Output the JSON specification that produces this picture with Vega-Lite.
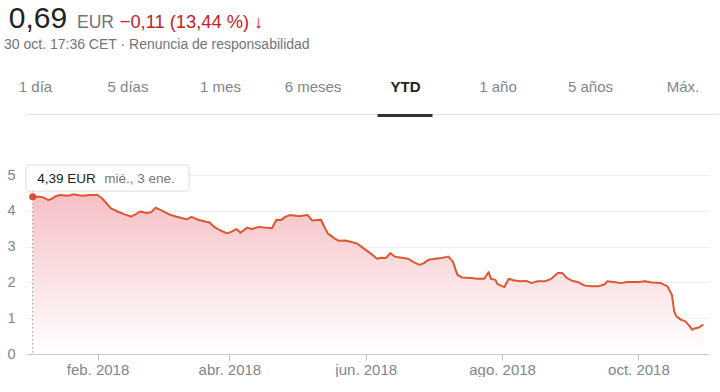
{
  "$schema": "https://vega.github.io/schema/vega-lite/v6.json",
  "background": "white",
  "padding": {"left": 4, "top": 0, "right": 0, "bottom": 0},
  "config": {"font": "Liberation Sans", "view": {"stroke": null}},
  "datasets": {
    "tabs": [{"tab": "1 día"}, {"tab": "5 días"}, {"tab": "1 mes"}, {"tab": "6 meses"}, {"tab": "YTD"}, {"tab": "1 año"}, {"tab": "5 años"}, {"tab": "Máx."}],
    "hover": [{"date": "2018-01-03", "value": 4.39, "price": "4,39 EUR", "day": "mié., 3 ene."}],
    "prices": [
      {"date": "2018-01-03", "value": 4.39}, {"date": "2018-01-05", "value": 4.40}, {"date": "2018-01-08", "value": 4.37},
      {"date": "2018-01-10", "value": 4.30}, {"date": "2018-01-12", "value": 4.35}, {"date": "2018-01-13", "value": 4.40},
      {"date": "2018-01-15", "value": 4.44}, {"date": "2018-01-19", "value": 4.42}, {"date": "2018-01-21", "value": 4.46},
      {"date": "2018-01-25", "value": 4.42}, {"date": "2018-01-29", "value": 4.44}, {"date": "2018-02-01", "value": 4.44},
      {"date": "2018-02-03", "value": 4.35}, {"date": "2018-02-05", "value": 4.21}, {"date": "2018-02-07", "value": 4.07},
      {"date": "2018-02-10", "value": 3.98}, {"date": "2018-02-13", "value": 3.90}, {"date": "2018-02-16", "value": 3.84},
      {"date": "2018-02-18", "value": 3.90}, {"date": "2018-02-20", "value": 3.98}, {"date": "2018-02-23", "value": 3.94},
      {"date": "2018-02-25", "value": 3.96}, {"date": "2018-02-27", "value": 4.09}, {"date": "2018-03-02", "value": 4.00},
      {"date": "2018-03-05", "value": 3.90}, {"date": "2018-03-08", "value": 3.84}, {"date": "2018-03-11", "value": 3.79},
      {"date": "2018-03-13", "value": 3.76}, {"date": "2018-03-15", "value": 3.83}, {"date": "2018-03-18", "value": 3.75},
      {"date": "2018-03-21", "value": 3.70}, {"date": "2018-03-23", "value": 3.68}, {"date": "2018-03-25", "value": 3.56},
      {"date": "2018-03-28", "value": 3.45}, {"date": "2018-03-31", "value": 3.37}, {"date": "2018-04-02", "value": 3.42},
      {"date": "2018-04-04", "value": 3.49}, {"date": "2018-04-06", "value": 3.39}, {"date": "2018-04-09", "value": 3.53},
      {"date": "2018-04-11", "value": 3.49}, {"date": "2018-04-14", "value": 3.55}, {"date": "2018-04-17", "value": 3.53},
      {"date": "2018-04-20", "value": 3.51}, {"date": "2018-04-22", "value": 3.75}, {"date": "2018-04-24", "value": 3.74},
      {"date": "2018-04-26", "value": 3.83}, {"date": "2018-04-28", "value": 3.88}, {"date": "2018-04-30", "value": 3.87},
      {"date": "2018-05-02", "value": 3.85}, {"date": "2018-05-06", "value": 3.88}, {"date": "2018-05-08", "value": 3.73},
      {"date": "2018-05-12", "value": 3.75}, {"date": "2018-05-13", "value": 3.61}, {"date": "2018-05-15", "value": 3.37},
      {"date": "2018-05-18", "value": 3.23}, {"date": "2018-05-20", "value": 3.16}, {"date": "2018-05-23", "value": 3.17},
      {"date": "2018-05-26", "value": 3.12}, {"date": "2018-05-28", "value": 3.09}, {"date": "2018-06-01", "value": 2.91},
      {"date": "2018-06-04", "value": 2.77}, {"date": "2018-06-06", "value": 2.66}, {"date": "2018-06-08", "value": 2.69},
      {"date": "2018-06-10", "value": 2.68}, {"date": "2018-06-12", "value": 2.82}, {"date": "2018-06-14", "value": 2.72},
      {"date": "2018-06-17", "value": 2.69}, {"date": "2018-06-20", "value": 2.66}, {"date": "2018-06-22", "value": 2.58},
      {"date": "2018-06-25", "value": 2.49}, {"date": "2018-06-27", "value": 2.54}, {"date": "2018-06-29", "value": 2.63},
      {"date": "2018-07-02", "value": 2.66}, {"date": "2018-07-05", "value": 2.68}, {"date": "2018-07-08", "value": 2.72},
      {"date": "2018-07-10", "value": 2.58}, {"date": "2018-07-12", "value": 2.21}, {"date": "2018-07-14", "value": 2.14},
      {"date": "2018-07-18", "value": 2.12}, {"date": "2018-07-21", "value": 2.10}, {"date": "2018-07-24", "value": 2.10},
      {"date": "2018-07-26", "value": 2.29}, {"date": "2018-07-27", "value": 2.10}, {"date": "2018-07-29", "value": 2.07},
      {"date": "2018-07-30", "value": 1.95}, {"date": "2018-08-02", "value": 1.87}, {"date": "2018-08-04", "value": 2.10},
      {"date": "2018-08-06", "value": 2.06}, {"date": "2018-08-09", "value": 2.03}, {"date": "2018-08-12", "value": 2.04},
      {"date": "2018-08-14", "value": 1.98}, {"date": "2018-08-17", "value": 2.03}, {"date": "2018-08-20", "value": 2.03},
      {"date": "2018-08-23", "value": 2.10}, {"date": "2018-08-26", "value": 2.26}, {"date": "2018-08-28", "value": 2.26},
      {"date": "2018-08-30", "value": 2.12}, {"date": "2018-09-02", "value": 2.03}, {"date": "2018-09-04", "value": 2.01},
      {"date": "2018-09-07", "value": 1.91}, {"date": "2018-09-10", "value": 1.89}, {"date": "2018-09-13", "value": 1.89},
      {"date": "2018-09-16", "value": 1.95}, {"date": "2018-09-17", "value": 2.03}, {"date": "2018-09-20", "value": 2.01},
      {"date": "2018-09-23", "value": 1.98}, {"date": "2018-09-26", "value": 2.01}, {"date": "2018-10-01", "value": 2.01},
      {"date": "2018-10-04", "value": 2.03}, {"date": "2018-10-07", "value": 2.00}, {"date": "2018-10-11", "value": 1.98},
      {"date": "2018-10-14", "value": 1.89}, {"date": "2018-10-16", "value": 1.65}, {"date": "2018-10-17", "value": 1.19},
      {"date": "2018-10-18", "value": 1.05}, {"date": "2018-10-20", "value": 0.96}, {"date": "2018-10-22", "value": 0.91},
      {"date": "2018-10-24", "value": 0.77}, {"date": "2018-10-25", "value": 0.68}, {"date": "2018-10-26", "value": 0.71},
      {"date": "2018-10-28", "value": 0.74}, {"date": "2018-10-30", "value": 0.82}
    ]
  },
  "vconcat": [
    {
      "hconcat": [
        {"width": 24, "height": 56, "data": {"values": [{"t": "0,69"}]},
         "mark": {"type": "text", "align": "center", "baseline": "alphabetic", "fontSize": 30, "color": "#222222"},
         "encoding": {"text": {"field": "t", "type": "nominal"}}},
        {"width": 91, "height": 56, "data": {"values": [{"t": "EUR"}]},
         "mark": {"type": "text", "align": "center", "baseline": "alphabetic", "fontSize": 17.5, "color": "#70757a"},
         "encoding": {"text": {"field": "t", "type": "nominal"}}},
        {"width": 101, "height": 56, "data": {"values": [{"t": "−0,11 (13,44 %) ↓"}]},
         "mark": {"type": "text", "align": "center", "baseline": "alphabetic", "fontSize": 18.3, "color": "#c5221f"},
         "encoding": {"text": {"field": "t", "type": "nominal"}}}
      ],
      "spacing": 0,
      "bounds": "flush"
    },
    {
      "vconcat": [
        {
          "width": 693,
          "height": 3,
          "title": {"text": "30 oct. 17:36 CET · Renuncia de responsabilidad", "anchor": "start", "frame": "group", "dx": -22, "offset": 16, "fontSize": 14, "fontWeight": "normal", "color": "#70757a", "font": "Liberation Sans", "baseline": "alphabetic"},
          "data": {"name": "tabs"},
          "mark": {"type": "rule", "strokeWidth": 55, "color": "#333333", "strokeCap": "butt"},
          "encoding": {
            "x": {"field": "tab", "type": "nominal", "sort": null, "title": null,
              "scale": {"type": "point", "padding": 0.246, "align": 0.198},
              "axis": {"orient": "top", "ticks": false, "tickSize": 0, "labelPadding": 20, "labelAngle": 0, "labelFontSize": 15,
                "labelFont": "Liberation Sans",
                "labelColor": {"condition": {"test": "datum.value === 'YTD'", "value": "#222222"}, "value": "#80868b"},
                "labelFontWeight": {"condition": {"test": "datum.value === 'YTD'", "value": "bold"}, "value": "normal"},
                "domainColor": "#e3e3e3", "domainWidth": 1}},
            "opacity": {"condition": {"test": "datum.tab === 'YTD'", "value": 1}, "value": 0}
          }
        },
        {
          "width": 683,
          "height": 179,
          "layer": [
            {
              "data": {"name": "prices"},
              "mark": {"type": "area", "color": {"gradient": "linear", "x1": 0, "y1": 1, "x2": 0, "y2": 0,
                "stops": [{"offset": 0, "color": "#ffffff"}, {"offset": 1, "color": "#f6c0c6"}]}},
              "encoding": {
                "x": {"field": "date", "type": "temporal", "title": null,
                  "scale": {"type": "utc", "domain": [{"year": 2017, "month": 12, "date": 31, "utc": true}, {"year": 2018, "month": 11, "date": 1, "hours": 14, "utc": true}]},
                  "axis": {"values": [{"year": 2018, "month": 2, "date": 1, "utc": true}, {"year": 2018, "month": 4, "date": 1, "utc": true}, {"year": 2018, "month": 6, "date": 1, "utc": true}, {"year": 2018, "month": 8, "date": 1, "utc": true}, {"year": 2018, "month": 10, "date": 1, "utc": true}],
                    "labelExpr": "['ene.','feb.','mar.','abr.','may.','jun.','jul.','ago.','sep.','oct.','nov.','dic.'][utcmonth(datum.value)] + ' ' + utcyear(datum.value)",
                    "grid": false, "domainColor": "#cccccc", "tickColor": "#bbbbbb", "tickSize": 6, "labelColor": "#80868b", "labelFontSize": 15, "labelPadding": 2, "labelFont": "Liberation Sans", "labelOverlap": false}},
                "y": {"field": "value", "type": "quantitative", "title": null,
                  "scale": {"domain": [0, 5], "nice": false},
                  "axis": {"values": [0, 1, 2, 3, 4, 5], "tickCount": 6, "domain": false, "ticks": false, "tickSize": 0, "labelAlign": "left", "labelPadding": 19, "labelColor": "#80868b", "labelFontSize": 14.5, "labelFont": "Liberation Sans", "labelOverlap": false, "grid": true, "gridColor": "#eeeeee"}}
              }
            },
            {
              "data": {"name": "prices"},
              "mark": {"type": "line", "color": "#dd5733", "strokeWidth": 2, "strokeJoin": "round"},
              "encoding": {
                "x": {"field": "date", "type": "temporal", "title": null},
                "y": {"field": "value", "type": "quantitative", "title": null}
              }
            },
            {
              "data": {"name": "hover"},
              "mark": {"type": "rule", "color": "#999999", "strokeWidth": 1, "strokeDash": [1.5, 2.5]},
              "encoding": {
                "x": {"field": "date", "type": "temporal", "title": null}
              }
            },
            {
              "data": {"name": "hover"},
              "mark": {"type": "point", "filled": true, "size": 50, "color": "#dc4a38", "opacity": 1},
              "encoding": {
                "x": {"field": "date", "type": "temporal", "title": null},
                "y": {"field": "value", "type": "quantitative", "title": null}
              }
            },
            {
              "data": {"name": "hover"},
              "mark": {"type": "rect", "fill": "#ffffff", "stroke": "#dddddd", "strokeWidth": 1, "cornerRadius": 2},
              "encoding": {
                "x": {"datum": {"year": 2017, "month": 12, "date": 31, "utc": true}, "type": "temporal", "title": null},
                "x2": {"datum": {"year": 2018, "month": 3, "date": 14, "utc": true}},
                "y": {"datum": 5.28, "type": "quantitative", "title": null},
                "y2": {"datum": 4.55}
              }
            },
            {
              "data": {"name": "hover"},
              "mark": {"type": "text", "align": "left", "baseline": "middle", "fontSize": 13.5, "color": "#222222"},
              "encoding": {
                "x": {"datum": {"year": 2018, "month": 1, "date": 5, "utc": true}, "type": "temporal", "title": null},
                "y": {"datum": 4.88, "type": "quantitative", "title": null},
                "text": {"field": "price", "type": "nominal"}
              }
            },
            {
              "data": {"name": "hover"},
              "mark": {"type": "text", "align": "left", "baseline": "middle", "fontSize": 13.5, "color": "#777777"},
              "encoding": {
                "x": {"datum": {"year": 2018, "month": 2, "date": 4, "utc": true}, "type": "temporal", "title": null},
                "y": {"datum": 4.88, "type": "quantitative", "title": null},
                "text": {"field": "day", "type": "nominal"}
              }
            }
          ]
        }
      ],
      "spacing": 58,
      "bounds": "flush"
    }
  ],
  "spacing": 114,
  "bounds": "flush"
}
